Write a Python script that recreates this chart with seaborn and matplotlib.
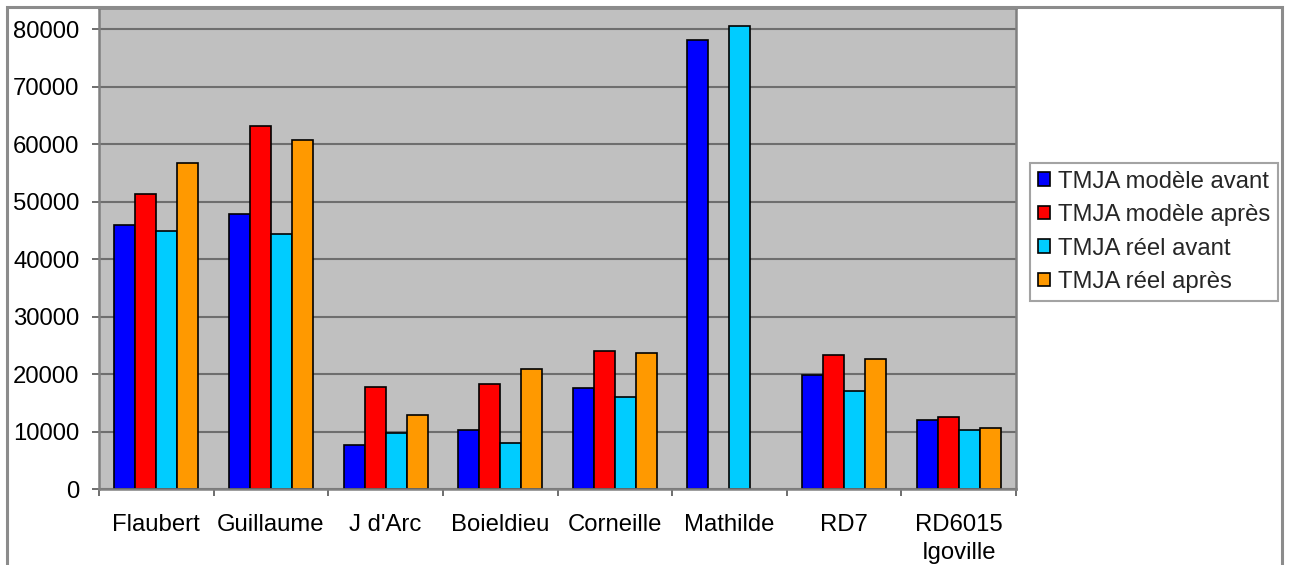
import numpy as np
import pandas as pd
import matplotlib
matplotlib.use("Agg")
import matplotlib.pyplot as plt
from matplotlib.patches import Rectangle
from matplotlib.ticker import FixedLocator
import seaborn as sns

# Traffic counts (TMJA) per site, model vs. measured, before / after
categories = ["Flaubert", "Guillaume", "J d'Arc", "Boieldieu", "Corneille",
              "Mathilde", "RD7", "RD6015\nIgoville"]
series_names = ["TMJA modèle avant", "TMJA modèle après",
                "TMJA réel avant", "TMJA réel après"]
modele_avant = [45900, 47800, 7700, 10300, 17600, 78200, 19900, 12050]
modele_apres = [51250, 63100, 17800, 18300, 24000, np.nan, 23300, 12450]
reel_avant = [44900, 44300, 9700, 8000, 16050, 80600, 17100, 10200]
reel_apres = [56800, 60750, 12900, 20900, 23600, np.nan, 22600, 10600]
y_ticks = [0, 10000, 20000, 30000, 40000, 50000, 60000, 70000, 80000]

colors = ["#0000FF", "#FF0000", "#00CCFF", "#FF9900"]

rows = []
for name, vals in zip(series_names, [modele_avant, modele_apres, reel_avant, reel_apres]):
    for cat, v in zip(categories, vals):
        rows.append({"site": cat, "serie": name, "tmja": v})
df = pd.DataFrame(rows)

sns.set_theme(style="white")
plt.rcParams["font.family"] = ["Liberation Sans", "DejaVu Sans"]
FS = 17.2
plt.rcParams["font.size"] = FS

fig = plt.figure(figsize=(12.89, 5.65), dpi=100)
ax = fig.add_axes([99 / 1289, 1 - 489 / 565, (1016 - 99) / 1289, (489 - 8) / 565])

sns.barplot(data=df, x="site", y="tmja", hue="serie", order=categories,
            hue_order=series_names, palette=colors, width=0.733,
            edgecolor="black", linewidth=1.2, saturation=1, ax=ax,
            legend=True)

ax.set_facecolor("#C0C0C0")
ax.set_ylim(0, 83700)
ax.set_xlim(-0.5, len(categories) - 0.5)
ax.yaxis.set_major_locator(FixedLocator(y_ticks))
ax.set_yticklabels([str(t) for t in y_ticks], fontsize=FS, color="black")
ax.grid(axis="y", color="#6E6E6E", linewidth=1.5)
ax.set_axisbelow(True)
ax.set_xlabel("")
ax.set_ylabel("")

ax.tick_params(axis="y", which="major", direction="out", length=5, width=1.2,
               color="#555555", pad=9, left=True)
ax.tick_params(axis="x", which="major", length=0, pad=18, labelsize=FS,
               labelcolor="black")
ax.xaxis.set_minor_locator(FixedLocator(np.arange(-0.5, len(categories), 1.0)))
ax.tick_params(axis="x", which="minor", direction="out", length=5, width=1.2,
               color="#555555", bottom=True)
for lbl in ax.get_xticklabels():
    lbl.set_linespacing(1.35)

for side in ["left", "bottom", "top", "right"]:
    ax.spines[side].set_visible(True)
    ax.spines[side].set_color("#808080")
    ax.spines[side].set_linewidth(1.8)

handles, labels = ax.get_legend_handles_labels()
ax.get_legend().remove()
leg = fig.legend(handles, labels, loc="upper left",
                 bbox_to_anchor=(1030 / 1289, 1 - 163 / 565),
                 bbox_transform=fig.transFigure, borderaxespad=0,
                 fontsize=FS, frameon=True, fancybox=False,
                 handlelength=0.5, handleheight=0.5, handletextpad=0.35,
                 labelspacing=0.48, borderpad=0.32)
leg.get_frame().set_edgecolor("#8C8C8C")
leg.get_frame().set_linewidth(1.5)
for h in leg.legend_handles:
    h.set_edgecolor("black")
    h.set_linewidth(1.2)

# chart outer frame
fig.patches.append(Rectangle((7 / 1289, -0.05), (1282 - 7) / 1289, 1.05 - 7 / 565,
                             transform=fig.transFigure, fill=False,
                             edgecolor="#8C8C8C", linewidth=2.2))

fig.savefig("out.png", dpi=100, facecolor="white")
